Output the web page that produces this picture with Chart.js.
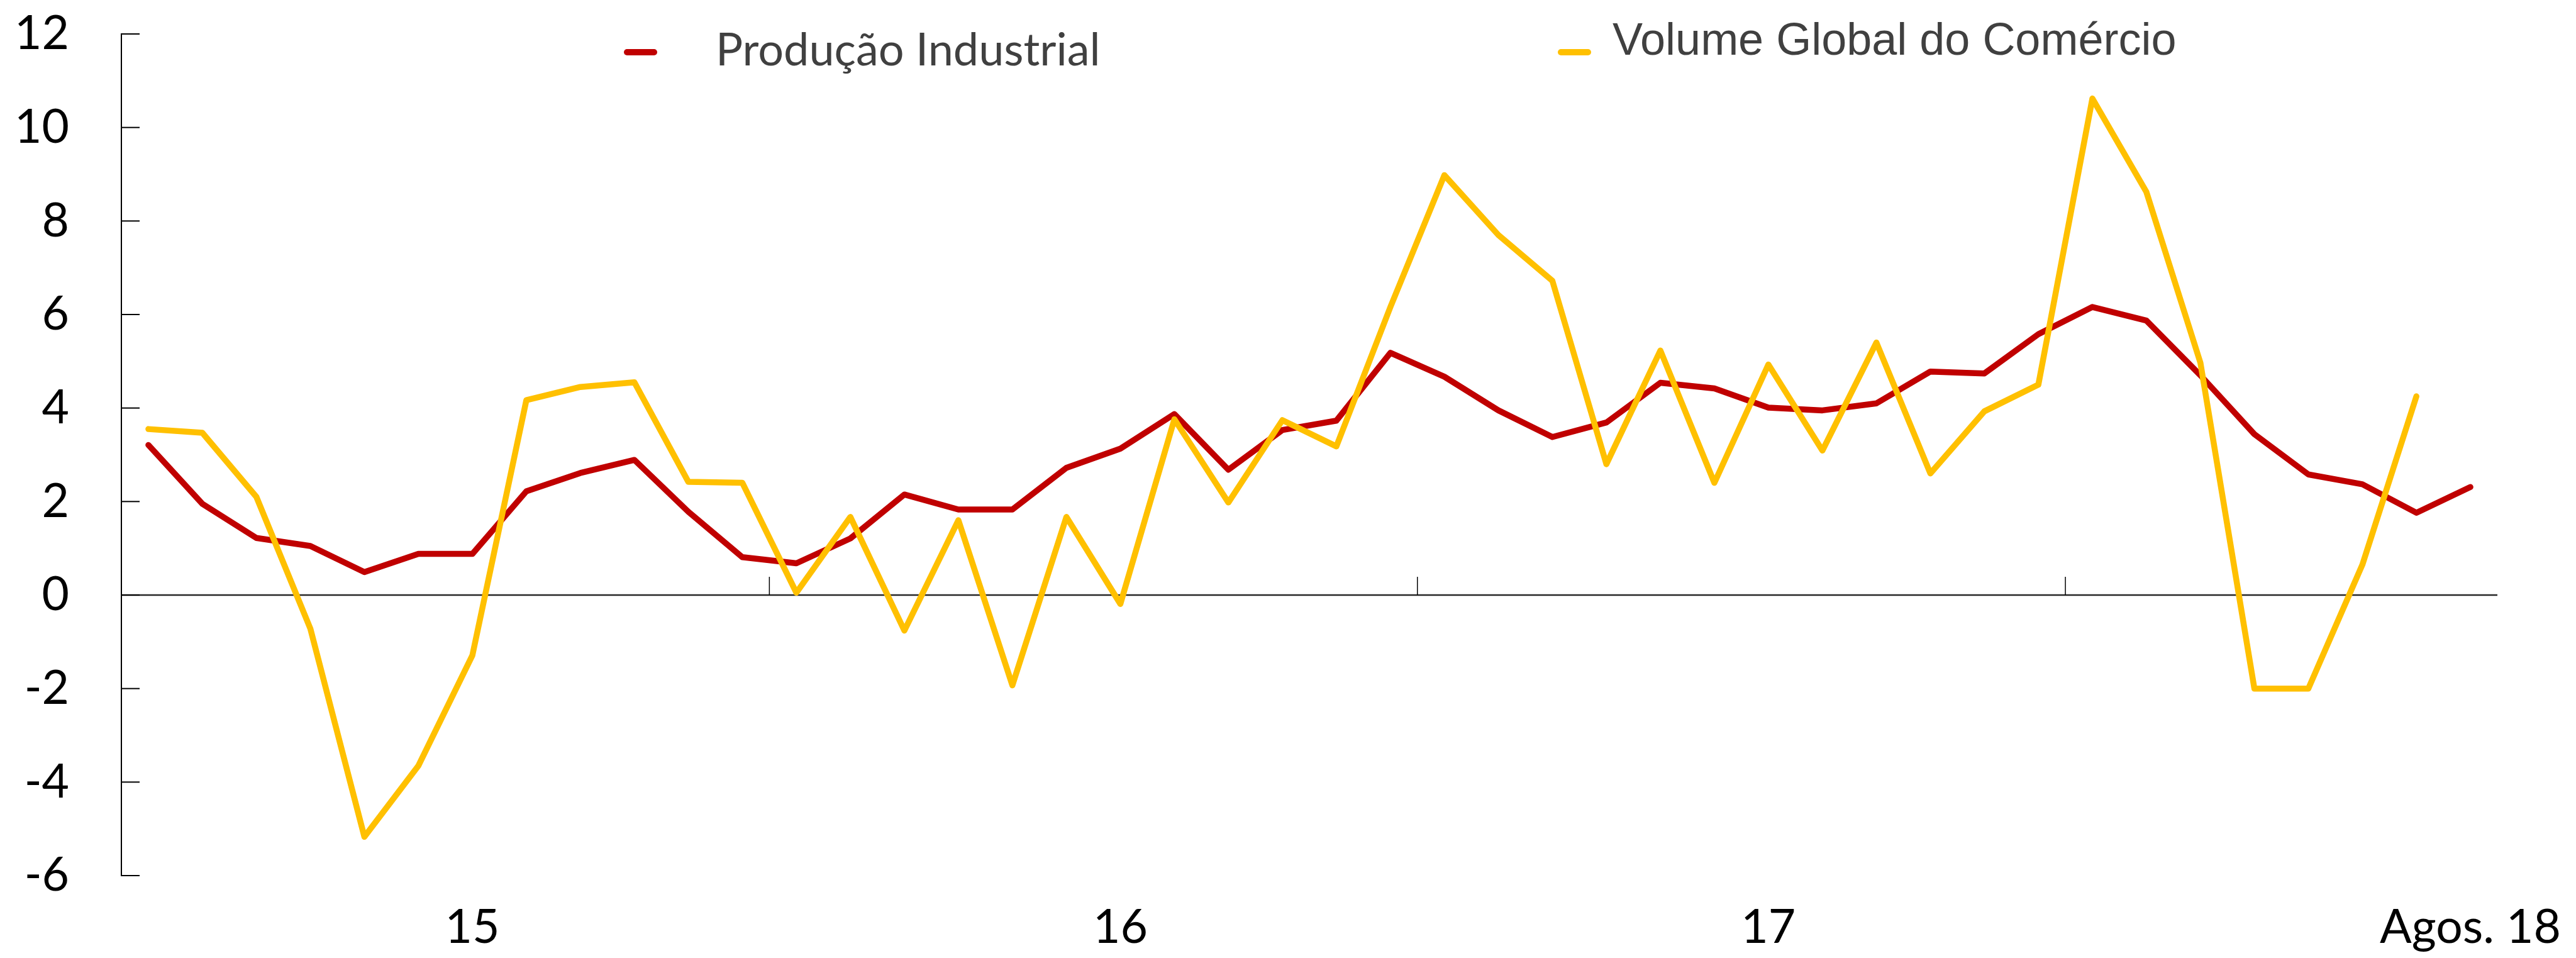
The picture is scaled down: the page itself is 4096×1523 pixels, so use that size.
<!DOCTYPE html>
<html>
<head>
<meta charset="utf-8">
<script src="https://cdn.jsdelivr.net/npm/chart.js@4.4.1/dist/chart.umd.min.js"></script>
<style>
    html, body { margin: 0; padding: 0; background: #fff; }
    #wrap { width: 4096px; height: 1523px; position: relative; }
</style>
</head>
<body>
<div id="wrap"><canvas id="line-chart"></canvas></div>
<script>
// categorias: Jan 2015 .. Agos 2018
var monthNames = ["Jan", "Fev", "Mar", "Abr", "Mai", "Jun", "Jul", "Ago", "Set", "Out", "Nov", "Dez"];
var years = ["15", "16", "17", "18"];
var months = [];
for (var a = 0; a < years.length; a++) {
    for (var m = 0; m < 12; m++) {
        if (a === 3 && m > 7) break;
        months.push(monthNames[m] + " " + years[a]);
    }
}

// rótulos do eixo x
var tickIndex = [6, 18, 30, 43];
var tickText = ["15", "16", "17", "Agos. 18"];
var yearBreaks = [12, 24, 36];

var seriesNames = ["Produção Industrial", "Volume Global do Comércio"];

var producao = [3.21, 1.95, 1.22, 1.05, 0.49, 0.88, 0.88, 2.22, 2.61, 2.89, 1.78, 0.81,
    0.68, 1.21, 2.15, 1.83, 1.83, 2.72, 3.13, 3.87, 2.68, 3.53, 3.73, 5.18,
    4.67, 3.95, 3.38, 3.69, 4.54, 4.42, 4.01, 3.95, 4.10, 4.78, 4.74, 5.58,
    6.16, 5.87, 4.70, 3.44, 2.58, 2.37, 1.76, 2.31];

var comercio = [3.55, 3.47, 2.10, -0.72, -5.17, -3.65, -1.29, 4.17, 4.45, 4.55, 2.42, 2.40,
    0.05, 1.67, -0.76, 1.60, -1.93, 1.67, -0.19, 3.76, 1.98, 3.74, 3.18, 6.16,
    8.98, 7.70, 6.72, 2.80, 5.23, 2.40, 4.93, 3.09, 5.40, 2.60, 3.93, 4.50,
    10.62, 8.62, 4.97, -2.00, -2.00, 0.65, 4.25];

var red = "#C00000";
var yellow = "#FFC000";

// linha do zero, marcas internas e legenda
var refMarks = {
    id: "refMarks",
    beforeDatasetsDraw: function (chart) {
        var ctx = chart.ctx, x = chart.scales.x, y = chart.scales.y, area = chart.chartArea;
        var y0 = y.getPixelForValue(0);
        ctx.save();
        ctx.strokeStyle = "#262626";
        ctx.lineWidth = 2.5;
        ctx.beginPath();
        ctx.moveTo(area.left, y0);
        ctx.lineTo(area.right, y0);
        ctx.stroke();

        ctx.strokeStyle = "#000";
        ctx.lineWidth = 1.5;
        yearBreaks.forEach(function (i) {
            var px = (x.getPixelForValue(i - 1) + x.getPixelForValue(i)) / 2;
            ctx.beginPath();
            ctx.moveTo(px, y0);
            ctx.lineTo(px, y0 - 29);
            ctx.stroke();
        });

        ctx.lineWidth = 2;
        y.ticks.forEach(function (t) {
            var py = y.getPixelForValue(t.value);
            ctx.beginPath();
            ctx.moveTo(area.left, py);
            ctx.lineTo(area.left + 29, py);
            ctx.stroke();
        });
        ctx.restore();
    },
    afterDraw: function (chart) {
        var ctx = chart.ctx;
        var items = [
            { color: red, x1: 992, x2: 1045, tx: 1138, ty: 104, font: "72px Lato, 'Noto Sans', sans-serif" },
            { color: yellow, x1: 2477, x2: 2530, tx: 2564, ty: 87, font: "72px 'Liberation Sans', Arial, sans-serif" }
        ];
        ctx.save();
        items.forEach(function (it, i) {
            ctx.strokeStyle = it.color;
            ctx.lineWidth = 10;
            ctx.lineCap = "round";
            ctx.beginPath();
            ctx.moveTo(it.x1 + 5, 83);
            ctx.lineTo(it.x2 - 5, 83);
            ctx.stroke();
            ctx.fillStyle = "#404040";
            ctx.font = it.font;
            ctx.textBaseline = "alphabetic";
            ctx.textAlign = "left";
            ctx.fillText(seriesNames[i], it.tx, it.ty);
        });
        ctx.restore();
    }
};

var tickFont = { family: "Lato, 'Noto Sans', sans-serif", size: 75 };

var chart = new Chart(document.getElementById("line-chart"), {
    type: "line",
    data: {
        labels: months,
        datasets: [
            {
                label: seriesNames[0],
                data: producao,
                borderColor: red,
                backgroundColor: red,
                borderWidth: 9.5,
                pointRadius: 0,
                tension: 0,
                borderJoinStyle: "round",
                borderCapStyle: "round",
                order: 2
            },
            {
                label: seriesNames[1],
                data: comercio,
                borderColor: yellow,
                backgroundColor: yellow,
                borderWidth: 9.5,
                pointRadius: 0,
                tension: 0,
                borderJoinStyle: "round",
                borderCapStyle: "round",
                order: 1
            }
        ]
    },
    options: {
        responsive: true,
        maintainAspectRatio: false,
        animation: false,
        devicePixelRatio: 1,
        layout: { padding: { top: 54, right: 125, bottom: 0, left: 0 } },
        plugins: {
            legend: { display: false },
            tooltip: { enabled: false }
        },
        scales: {
            x: {
                type: "category",
                offset: true,
                grid: { display: false, drawTicks: false },
                border: { display: false },
                ticks: {
                    autoSkip: false,
                    maxRotation: 0,
                    minRotation: 0,
                    padding: 38,
                    color: "#000",
                    font: tickFont,
                    callback: function (val, idx) {
                        var k = tickIndex.indexOf(idx);
                        return k >= 0 ? tickText[k] : "";
                    }
                },
                afterFit: function (s) {
                    s.height = 131;
                    s.paddingLeft = 0;
                    s.paddingRight = 0;
                }
            },
            y: {
                min: -6,
                max: 12,
                grid: { display: false, drawTicks: false },
                border: { display: true, color: "#000", width: 2 },
                ticks: {
                    stepSize: 2,
                    padding: 83,
                    color: "#000",
                    font: tickFont
                },
                afterFit: function (s) {
                    s.width = 193;
                    s.paddingTop = 0;
                    s.paddingBottom = 0;
                }
            }
        }
    },
    plugins: [refMarks]
});
</script>
</body>
</html>
